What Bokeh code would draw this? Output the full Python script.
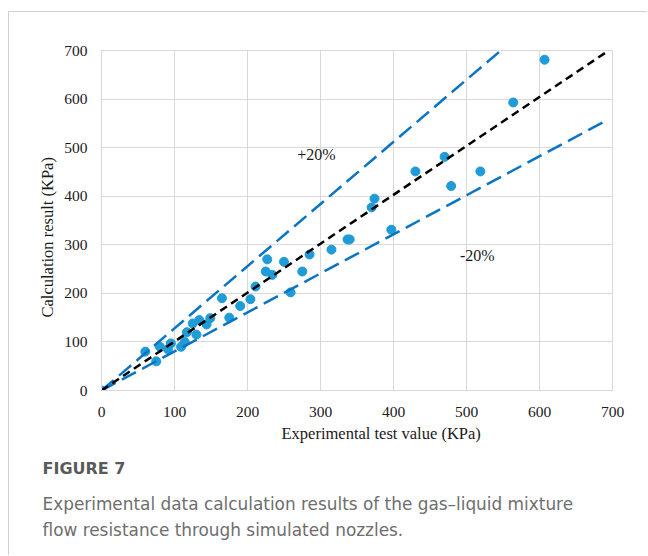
from bokeh.plotting import figure
from bokeh.models import Label, Title, FixedTicker, Range1d, ColumnDataSource
from bokeh.embed import file_html
from bokeh.resources import INLINE

# Measured pairs: experimental test value vs. calculated result (KPa)
experimental = [0, 60, 75, 80, 91, 95, 109, 114, 117, 125, 130, 134, 144, 149,
                165, 175, 190, 204, 211, 227, 225, 234, 250, 259, 275, 285,
                315, 337, 340, 370, 374, 397, 430, 470, 479, 519, 564, 607]
calculated = [0, 80, 60, 90, 85, 97, 90, 100, 120, 138, 115, 145, 136, 149,
              190, 150, 174, 188, 214, 270, 245, 238, 265, 202, 245, 280,
              290, 311, 311, 377, 395, 331, 451, 481, 421, 451, 593, 681]

# Reference lines: perfect agreement and the +/-20% bands
ideal_x, ideal_y = [0, 690], [0, 695]
upper_x, upper_y = [0, 547], [0, 700]
lower_x, lower_y = [0, 688], [0, 553]

ticks = [0, 100, 200, 300, 400, 500, 600, 700]

SERIF = "Liberation Serif, Times New Roman, serif"
SANS = "DejaVu Sans"

p = figure(width=639, height=544, x_range=Range1d(0, 700), y_range=Range1d(0, 700),
           output_backend="svg", toolbar_location=None,
           min_border_left=92, min_border_right=36, min_border_top=38, min_border_bottom=166)
# thin page frame on the top and left edges
p.styles = {"border-top": "1px solid #d0d0d0", "border-left": "1px solid #d0d0d0",
            "margin-top": "11px", "margin-left": "8px"}

p.background_fill_color = "white"
p.border_fill_color = "white"
p.outline_line_color = "#d9d9d9"
p.grid.grid_line_color = "#d9d9d9"
p.grid.grid_line_width = 1
p.xgrid.ticker = FixedTicker(ticks=ticks)
p.ygrid.ticker = FixedTicker(ticks=ticks)

for ax in (p.xaxis[0], p.yaxis[0]):
    ax.ticker = FixedTicker(ticks=ticks)
    ax.axis_line_color = "#d9d9d9"
    ax.major_tick_line_color = None
    ax.minor_tick_line_color = None
    ax.major_label_text_font = SERIF
    ax.major_label_text_font_size = "15.5px"
    ax.major_label_text_color = "#1a1a1a"
p.xaxis.major_label_standoff = 10
p.yaxis.major_label_standoff = 8

src = ColumnDataSource(dict(x=experimental, y=calculated))
p.scatter("x", "y", source=src, size=9, fill_color="#1f9bd7", line_color="#1f9bd7")

p.line(upper_x, upper_y, line_color="#0a74c4", line_width=2.5, line_dash="16 7")
p.line(lower_x, lower_y, line_color="#0a74c4", line_width=2.5, line_dash="16 7")
p.line(ideal_x, ideal_y, line_color="black", line_width=2.5, line_dash="8 5")

for x, y, t in [(268, 486, "+20%"), (491, 278, "-20%")]:
    p.add_layout(Label(x=x, y=y, text=t, text_font=SERIF, text_font_size="16px",
                       text_color="#1a1a1a", text_baseline="alphabetic"))

# Axis titles as side titles so they sit outside the frame
p.add_layout(Title(text="Experimental test value (KPa)", align="left", offset=180,
                   standoff=4, text_font=SERIF, text_font_size="16.5px",
                   text_font_style="normal", text_color="#1a1a1a"), "below")
p.add_layout(Title(text="Calculation result (KPa)", align="left", offset=73,
                   standoff=10, text_font=SERIF, text_font_size="16.5px",
                   text_font_style="normal", text_color="#1a1a1a"), "left")

# Caption
p.add_layout(Title(text="FIGURE 7", align="left", offset=-59, standoff=24,
                   text_font=SANS, text_font_size="16px", text_font_style="bold",
                   text_color="#5a5a5a"), "below")
p.add_layout(Title(text="Experimental data calculation results of the gas\u2013liquid mixture",
                   align="left", offset=-59, standoff=4, text_font=SANS,
                   text_font_size="16.9px", text_font_style="normal",
                   text_color="#6e6e6e"), "below")
p.add_layout(Title(text="flow resistance through simulated nozzles.",
                   align="left", offset=-59, standoff=5, text_font=SANS,
                   text_font_size="16.9px", text_font_style="normal",
                   text_color="#6e6e6e"), "below")

open("out.html", "w").write(file_html(p, INLINE))
